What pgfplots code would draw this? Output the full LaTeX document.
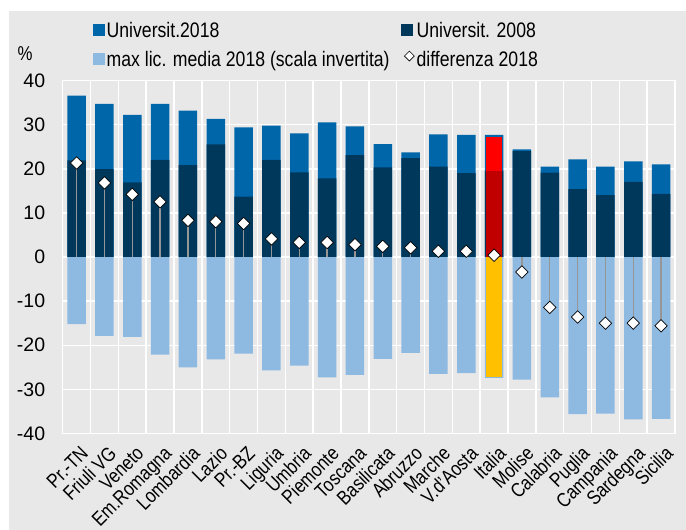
\documentclass[border=0pt]{standalone}
\usepackage{fontspec}
\setmainfont{Liberation Sans}[FakeStretch=0.84]
\newfontfamily\tickfont{Liberation Sans}
\usepackage{pgfplots}
\usepackage{pgfplotstable}
\pgfplotsset{compat=1.18}

\definecolor{uniA}{HTML}{0066AA}
\definecolor{uniB}{HTML}{00385C}
\definecolor{licC}{HTML}{8EB9E1}
\definecolor{bgG}{HTML}{E8E8E8}
\definecolor{stemG}{HTML}{969696}
\definecolor{itRed}{HTML}{FF0000}
\definecolor{itDark}{HTML}{C00000}
\definecolor{itGold}{HTML}{FFC000}

% x: posizione, uni18, uni08, lic (invertita), diff
\pgfplotstableread{
x uni18 uni08 lic diff
0 36.6 21.9 -15.2 21.3
1 34.7 19.9 -17.9 16.8
2 32.2 16.9 -18.1 14.2
3 34.7 22.0 -22.1 12.5
4 33.2 20.8 -25.0 8.3
5 31.3 25.5 -23.2 8.0
6 29.4 13.7 -21.9 7.6
7 29.8 22.0 -25.7 4.1
8 28.0 19.2 -24.6 3.3
9 30.5 17.8 -27.3 3.3
10 29.6 23.1 -26.7 2.8
11 25.6 20.3 -23.1 2.4
12 23.7 22.4 -21.7 2.1
13 27.8 20.5 -26.5 1.3
14 27.7 19.0 -26.3 1.3
15 27.7 19.6 -27.4 0.4
16 24.4 24.0 -27.8 -3.4
17 20.5 19.1 -31.8 -11.4
18 22.1 15.4 -35.6 -13.6
19 20.5 14.0 -35.5 -15.0
20 21.7 17.0 -36.8 -15.0
21 21.0 14.3 -36.7 -15.6
}\datatab

\newcommand{\ff}{\fontsize{21}{24}\selectfont}
\newcommand{\fx}{\fontsize{20}{23}\selectfont}
\newcommand{\fy}{\tickfont\fontsize{19.5}{22}\selectfont}

\begin{document}
\begin{tikzpicture}[x=1pt,y=1pt]
% sfondo
\fill[white] (-62.7,-96.5) rectangle (623.3,433.5);
\fill[bgG] (-53.7,-96.5) rectangle (623.3,422.5);
\node[font=\fx] at (-37.7,379.5) {\%};

\begin{axis}[
  at={(0,0)}, anchor=south west,
  scale only axis, width=612.3pt, height=353pt,
  xmin=-0.5, xmax=21.5, ymin=-40, ymax=40,
  xtick={0,...,21},
  xticklabels={Pr.-TN,Friuli VG,Veneto,Em.Romagna,Lombardia,Lazio,Pr.-BZ,Liguria,Umbria,Piemonte,Toscana,Basilicata,Abruzzo,Marche,V.d'Aosta,Italia,Molise,Calabria,Puglia,Campania,Sardegna,Sicilia},
  minor xtick={-0.5,0.5,...,21.5},
  ytick={-40,-30,...,40},
  ymajorgrids, xminorgrids,
  major grid style={white, line width=1.5pt},
  minor grid style={white, line width=1.5pt},
  axis line style={white, line width=1.5pt},
  major tick length=0pt, minor tick length=0pt,
  /pgf/number format/assume math mode=true,
  tick label style={text=black},
  yticklabel style={font=\fy, xshift=-14pt},
  xticklabel style={font=\fx, rotate=45, anchor=north east, inner sep=1pt, xshift=-5pt, yshift=-9pt},
  legend style={at={(axis description cs:0.047,1.173)}, anchor=north west,
    draw=none, fill=none, font=\ff, row sep=8pt, inner sep=1pt,
    /tikz/every even column/.append style={column sep=9pt}},
  legend columns=2, legend cell align=left,
  clip=false,
]
\addplot[ybar, bar shift=0pt, bar width=18.5pt, fill=uniA, draw=none,
  legend image code/.code={\fill[uniA] (0pt,-5pt) rectangle (12pt,7pt);}]
  table[x=x,y=uni18]{\datatab};
\addlegendentry{Universit.2018}
\addplot[ybar, bar shift=0pt, bar width=18.5pt, fill=uniB, draw=none,
  legend image code/.code={\fill[uniB] (0pt,-5pt) rectangle (12pt,7pt);}]
  table[x=x,y=uni08]{\datatab};
\addlegendentry{Universit. 2008}
\addplot[ybar, bar shift=0pt, bar width=18.5pt, fill=licC, draw=none,
  legend image code/.code={\fill[licC] (0pt,-5pt) rectangle (12pt,7pt);}]
  table[x=x,y=lic]{\datatab};
\addlegendentry{max lic. media 2018 (scala invertita)}
% Italia evidenziata
\addplot[ybar, bar shift=0pt, bar width=15.5pt, fill=itRed, draw=none, forget plot]
  coordinates {(15,27.3)};
\addplot[ybar, bar shift=0pt, bar width=15.5pt, fill=itDark, draw=none, forget plot]
  coordinates {(15,19.6)};
\addplot[ybar, bar shift=0pt, bar width=15.5pt, fill=itGold, draw=none, forget plot]
  coordinates {(15,-27.1)};
% aste
\addplot[ycomb, draw=stemG, line width=1.4pt, no markers, forget plot]
  table[x=x,y=diff]{\datatab};
\addplot[only marks, mark=square*, mark size=4.4pt,
  mark options={rotate=45, fill=white, draw=black, line width=0.7pt},
  legend image code/.code={\node[draw=black, fill=white, rotate=45, minimum size=7pt, inner sep=0pt, line width=0.6pt] at (6pt,1pt) {};}]
  table[x=x,y=diff]{\datatab};
\addlegendentry{differenza 2018}
\end{axis}
\pgfresetboundingbox
\useasboundingbox (-62.7,-96.5) rectangle (623.3,433.5);
\end{tikzpicture}
\end{document}
